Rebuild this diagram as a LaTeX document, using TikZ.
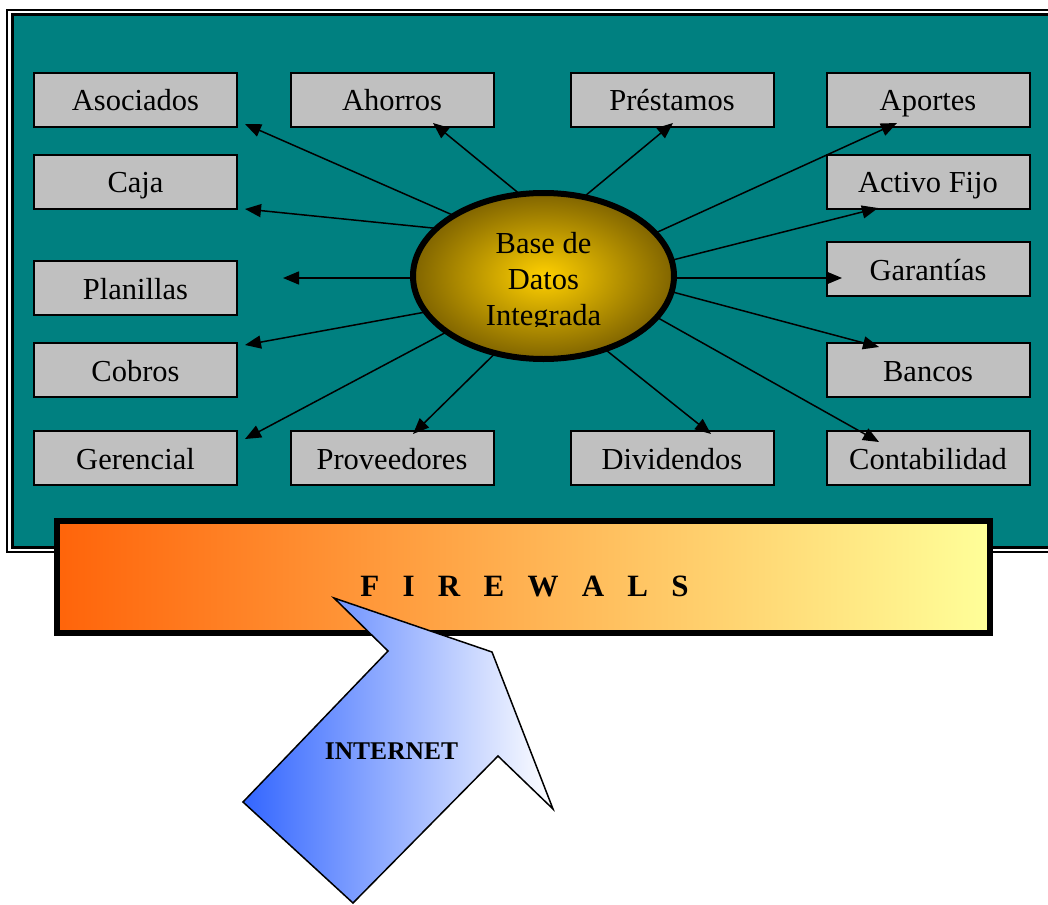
\documentclass[tikz,border=0pt]{standalone}
\usepackage{fontspec}
\setmainfont{Liberation Serif}
\usetikzlibrary{arrows.meta,shapes.geometric}
\definecolor{tealbg}{RGB}{0,128,128}
\definecolor{boxgrey}{RGB}{192,192,192}
\definecolor{fwleft}{RGB}{255,100,10}
\definecolor{fwright}{RGB}{255,255,153}
\definecolor{netblue}{RGB}{51,102,255}
\definecolor{dbcenter}{RGB}{255,208,0}
\definecolor{dbedge}{RGB}{128,100,0}
\tikzset{
  modbox/.style={draw=black, line width=2pt, fill=boxgrey, minimum width=203pt,
    minimum height=54pt, inner sep=0pt, text height=22pt, text depth=0pt,
    font=\fontsize{30.5}{36}\selectfont},
  link/.style={line width=1.5pt, -{Triangle[length=16pt,width=13pt]}},
  dbstyle/.style={ellipse, draw=black, line width=6pt, inner color=dbcenter,
    outer color=dbedge, minimum width=261pt, minimum height=166pt, inner sep=0pt,
    outer sep=0pt},
  dbtext/.style={align=center, inner sep=0pt, font=\fontsize{30.5}{36}\selectfont},
  fwstyle/.style={draw=black, line width=6pt, left color=fwleft, right color=fwright,
    minimum width=933pt, minimum height=112pt, inner sep=0pt},
  fwlabel/.style={font=\fontsize{31}{36}\selectfont\bfseries, inner sep=0pt},
  netlabel/.style={font=\fontsize{25.5}{30}\selectfont\bfseries, inner sep=0pt},
}
\begin{document}
\begin{tikzpicture}[x=1pt,y=-1pt]
\useasboundingbox (0,0) rectangle (1048,904);
% frame
\draw[line width=1.5pt, fill=white] (7,10) rectangle (1058,552);
\draw[line width=3pt, fill=tealbg] (12.5,14.5) rectangle (1053,547);
% boxes
\node[modbox] (asoc) at (135.5,100) {Asociados};
\node[modbox] (ahor) at (392,100) {Ahorros};
\node[modbox] (pres) at (672,100) {Préstamos};
\node[modbox] (apor) at (928,100) {Aportes};
\node[modbox] (caja) at (135.5,182) {Caja};
\node[modbox] (acti) at (928,182) {Activo Fijo};
\node[modbox] (plan) at (135.5,288) {Planillas};
\node[modbox] (gara) at (928,269) {Garantías};
\node[modbox] (cobr) at (135.5,370) {Cobros};
\node[modbox] (banc) at (928,370) {Bancos};
\node[modbox] (gere) at (135.5,458) {Gerencial};
\node[modbox] (prov) at (392,458) {Proveedores};
\node[modbox] (divi) at (672,458) {Dividendos};
\node[modbox] (cont) at (928,458) {Contabilidad};
% database
\node[dbstyle] (db) at (543.5,276) {};
\begin{scope}
  \clip (420,200) rectangle (670,326.5);
  \node[dbtext] (dbt) at (543.5,282) {Base de\\Datos\\Integrada};
\end{scope}
% arrow tips
\coordinate (tasoc) at (245,124);
\coordinate (tahor) at (433,123);
\coordinate (tpres) at (673,123);
\coordinate (tapor) at (897,123);
\coordinate (tcaja) at (245,209);
\coordinate (tacti) at (878,208);
\coordinate (tplan) at (283,278);
\coordinate (tgara) at (842,278);
\coordinate (tcobr) at (245,345);
\coordinate (tbanc) at (879,347);
\coordinate (tgere) at (245,439);
\coordinate (tprov) at (413,434);
\coordinate (tdivi) at (711,434);
\coordinate (tcont) at (879,442);
\draw[link] (db.146) -- (tasoc);
\draw[link] (db.106) -- (tahor);
\draw[link] (db.63) -- (tpres);
\draw[link] (db.21.5) -- (tapor);
\draw[link] (db.156.7) -- (tcaja);
\draw[link] (db.7.8) -- (tacti);
\draw[link] (db.west |- tplan) -- (tplan);
\draw[link] (db.east |- tgara) -- (tgara);
\draw[link] (db.197.6) -- (tcobr);
\draw[link] (db.353) -- (tbanc);
\draw[link] (db.210) -- (tgere);
\draw[link] (db.238) -- (tprov);
\draw[link] (db.310.5) -- (tdivi);
\draw[link] (db.340) -- (tcont);
% firewall
\node[fwstyle] (fw) at (523.5,577) {};
\node[fwlabel] (fwtext) at (524.5,586.5) {\spaceskip=0.75em\relax F I R E W A L S};
% internet arrow
\draw[line width=1.5pt, line join=miter, left color=netblue, right color=white]
  (243,802) -- (353,903) -- (498,756) -- (553,809) -- (492,652) -- (334,598) -- (388,651) -- cycle;
\node[netlabel] (inet) at (391.5,751.5) {INTERNET};
\end{tikzpicture}
\end{document}
